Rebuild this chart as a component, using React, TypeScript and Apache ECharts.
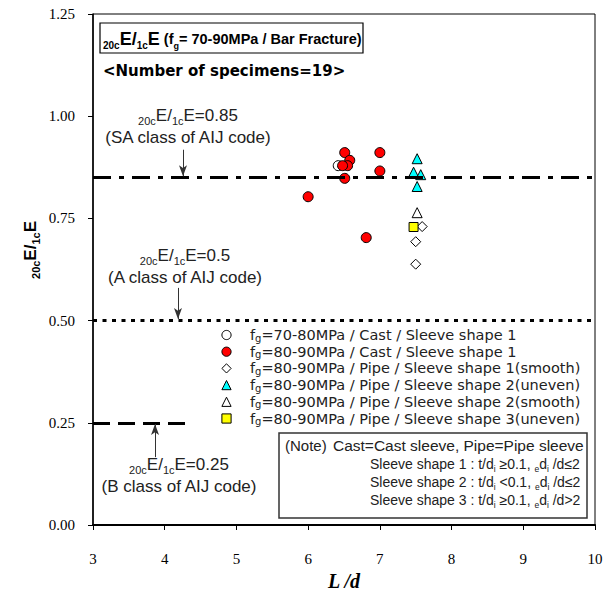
import React, { useEffect, useRef } from "react";
import * as echarts from "echarts";

// ---- data (L/d, 20cE/1cE) ----
const castOpen7080 = [[6.42, 0.879]];
const castRed8090 = [
  [6.0, 0.803],
  [6.51, 0.911],
  [6.58, 0.892],
  [6.55, 0.879],
  [6.48, 0.879],
  [6.51, 0.848],
  [7.0, 0.911],
  [7.0, 0.866],
  [6.81, 0.703],
];
const pipeShape1Smooth = [
  [7.59, 0.730],
  [7.5, 0.693],
  [7.5, 0.638],
];
const pipeShape2Uneven = [
  [7.52, 0.896],
  [7.47, 0.863],
  [7.57, 0.857],
  [7.52, 0.828],
];
const pipeShape2Smooth = [[7.52, 0.764]];
const pipeShape3Uneven = [[7.47, 0.729]];

const levelSA = 0.85;
const levelA = 0.5;
const levelB = 0.25;
const levelBEndX = 4.3;

const xMin = 3;
const xMax = 10;
const yMin = 0;
const yMax = 1.25;

const legendLabels = [
  "=70-80MPa / Cast / Sleeve shape 1",
  "=80-90MPa / Cast / Sleeve shape 1",
  "=80-90MPa / Pipe / Sleeve shape 1(smooth)",
  "=80-90MPa / Pipe / Sleeve shape 2(uneven)",
  "=80-90MPa / Pipe / Sleeve shape 2(smooth)",
  "=80-90MPa / Pipe / Sleeve shape 3(uneven)",
];

const SANS = "'Liberation Sans', Arial, sans-serif";
const WIDE = "'DejaVu Sans', sans-serif";
const SERIF = "'Liberation Serif', 'Times New Roman', serif";

function annot(x: number, y: number, value: string, cls: string) {
  const rich = {
    s: { fontSize: 11, lineHeight: 11, verticalAlign: "bottom", fontFamily: SANS, fill: "#222" },
    m: { fontSize: 17, lineHeight: 22, fontFamily: SANS, fill: "#222" },
  };
  return [
    {
      type: "text",
      x,
      y: y,
      style: {
        text: `{s|20c}{m|E/}{s|1c}{m|E=${value}}`,
        rich,
        align: "center",
        verticalAlign: "middle",
      },
    },
    {
      type: "text",
      x,
      y: y + 22,
      style: {
        text: `(${cls} class of AIJ code)`,
        fontSize: 17,
        fontFamily: SANS,
        fill: "#222",
        align: "center",
        verticalAlign: "middle",
      },
    },
  ];
}

export default function App() {
  const ref = useRef<HTMLDivElement>(null);
  useEffect(() => {
    if (!ref.current) return;
    const chart = echarts.init(ref.current, null, { renderer: "svg" });

    const legX = 226.5;
    const legTextX = 250;
    const legY0 = 335;
    const legDy = 16.7;
    const r = 4.6;
    const legendGraphics: any[] = [];
    const iconFor = (i: number, cy: number) => {
      const cx = legX;
      switch (i) {
        case 0:
          return { type: "circle", shape: { cx, cy, r }, style: { fill: "#fff", stroke: "#000", lineWidth: 1 } };
        case 1:
          return { type: "circle", shape: { cx, cy, r }, style: { fill: "#ff0000", stroke: "#000", lineWidth: 1 } };
        case 2:
          return {
            type: "polygon",
            shape: { points: [[cx, cy - r], [cx + r, cy], [cx, cy + r], [cx - r, cy]] },
            style: { fill: "#fff", stroke: "#000", lineWidth: 1 },
          };
        case 3:
          return {
            type: "polygon",
            shape: { points: [[cx, cy - r], [cx + r, cy + r], [cx - r, cy + r]] },
            style: { fill: "#00ffff", stroke: "#000", lineWidth: 1 },
          };
        case 4:
          return {
            type: "polygon",
            shape: { points: [[cx, cy - r], [cx + r, cy + r], [cx - r, cy + r]] },
            style: { fill: "#fff", stroke: "#000", lineWidth: 1 },
          };
        default:
          return {
            type: "rect",
            shape: { x: cx - r, y: cy - r, width: 2 * r, height: 2 * r },
            style: { fill: "#ffff00", stroke: "#000", lineWidth: 1 },
          };
      }
    };
    legendLabels.forEach((lab, i) => {
      const cy = legY0 + i * legDy;
      legendGraphics.push(iconFor(i, cy));
      legendGraphics.push({
        type: "text",
        x: legTextX,
        y: cy,
        style: {
          text: `{a|f}{g|g}{a|${lab}}`,
          rich: {
            a: { fontSize: 14.5, lineHeight: 16, fontFamily: WIDE, fill: "#222" },
            g: { fontSize: 10, lineHeight: 9, verticalAlign: "bottom", fontFamily: WIDE, fill: "#222" },
          },
          align: "left",
          verticalAlign: "middle",
        },
      });
    });

    const noteRich = {
      a: { fontSize: 14, lineHeight: 18, fontFamily: SANS, fill: "#222" },
      i: { fontSize: 8.5, lineHeight: 8, verticalAlign: "bottom", fontFamily: SANS, fill: "#222" },
    };
    const noteRow = (n: string, rel: string, lim: string) =>
      `{a|Sleeve shape ${n} : t/d}{i|i}{a| ${rel}0.1, }{i|e}{a|d}{i|i}{a| /d${lim}}`;

    const titleRich = {
      s: { fontSize: 10, lineHeight: 10, verticalAlign: "bottom", fontFamily: SANS, fontWeight: "bold", fill: "#000" },
      E: { fontSize: 18, lineHeight: 22, fontFamily: SANS, fontWeight: "bold", fill: "#000" },
      t: { fontSize: 14.5, lineHeight: 22, fontFamily: SANS, fontWeight: "bold", fill: "#000" },
      ts: { fontSize: 9, lineHeight: 9, verticalAlign: "bottom", fontFamily: SANS, fontWeight: "bold", fill: "#000" },
    };

    const graphics: any[] = [
      {
        type: "rect",
        shape: { x: 100, y: 23, width: 263, height: 30 },
        style: { fill: "#fff", stroke: "#000", lineWidth: 1.2 },
      },
      {
        type: "text",
        x: 103,
        y: 39,
        style: {
          text: "{s|20c}{E|E/}{s|1c}{E|E}{t| (f}{ts|g}{t|= 70-90MPa / Bar Fracture)}",
          rich: titleRich,
          align: "left",
          verticalAlign: "middle",
        },
      },
      {
        type: "text",
        x: 103,
        y: 71,
        style: {
          text: "<Number of specimens=19>",
          fontSize: 15,
          fontWeight: "bold",
          fontFamily: WIDE,
          fill: "#000",
          align: "left",
          verticalAlign: "middle",
        },
      },
      ...annot(188, 115, "0.85", "SA"),
      ...annot(185, 255, "0.5", "A"),
      ...annot(179, 464, "0.25", "B"),
      ...legendGraphics,
      {
        type: "rect",
        shape: { x: 279, y: 433, width: 308, height: 85 },
        style: { fill: "#fff", stroke: "#333", lineWidth: 1.5 },
      },
      {
        type: "text",
        x: 285,
        y: 445,
        style: { text: "(Note)", fontSize: 15, fontFamily: SANS, fill: "#222", align: "left", verticalAlign: "middle" },
      },
      {
        type: "text",
        x: 333,
        y: 445,
        style: {
          text: "Cast=Cast sleeve, Pipe=Pipe sleeve",
          fontSize: 15.5,
          fontFamily: SANS,
          fill: "#222",
          align: "left",
          verticalAlign: "middle",
        },
      },
      {
        type: "text",
        x: 370,
        y: 464,
        style: { text: noteRow("1", "≥", "≤2"), rich: noteRich, align: "left", verticalAlign: "middle" },
      },
      {
        type: "text",
        x: 370,
        y: 482,
        style: { text: noteRow("2", "<", "≤2"), rich: noteRich, align: "left", verticalAlign: "middle" },
      },
      {
        type: "text",
        x: 370,
        y: 500,
        style: { text: noteRow("3", "≥", ">2"), rich: noteRich, align: "left", verticalAlign: "middle" },
      },
      {
        type: "text",
        x: 30,
        y: 250,
        rotation: Math.PI / 2,
        style: {
          text: "{s|20c}{E|E/}{s|1c}{E|E}",
          rich: {
            s: { fontSize: 11, lineHeight: 10, verticalAlign: "bottom", fontFamily: SANS, fontWeight: "bold", fill: "#000" },
            E: { fontSize: 17, lineHeight: 22, fontFamily: SANS, fontWeight: "bold", fill: "#000" },
          },
          align: "center",
          verticalAlign: "middle",
        },
      },
    ];

    const arrowLine = (x: number, y0: number, y1: number) => [
      { coord: [x, y0], symbol: "none" },
      { coord: [x, y1], symbol: "arrow", symbolSize: [6, 11], lineStyle: { color: "#333", width: 1, type: "solid" } },
    ];

    const sym = (data: number[][], name: string, symbol: string, size: number, fill: string, extra: any = {}) => ({
      type: "scatter",
      name,
      data,
      symbol,
      symbolSize: size,
      itemStyle: { color: fill, borderColor: "#000", borderWidth: 1, opacity: 1 },
      emphasis: { disabled: true },
      ...extra,
    });

    chart.setOption({
      animation: false,
      backgroundColor: "#fff",
      grid: {
        left: 93,
        right: 15,
        top: 14,
        bottom: 67,
        show: true,
        borderColor: "#000",
        borderWidth: 1,
        containLabel: false,
        outerBoundsMode: "none",
      },
      xAxis: {
        type: "value",
        min: xMin,
        max: xMax,
        interval: 1,
        name: "L /d",
        nameLocation: "middle",
        nameGap: 44,
        nameTextStyle: {
          fontFamily: SERIF,
          fontStyle: "italic",
          fontWeight: "bold",
          fontSize: 20,
          color: "#000",
        },
        axisLine: { show: true, lineStyle: { color: "#000", width: 2 } },
        axisTick: { show: true, inside: false, length: 5, lineStyle: { color: "#000", width: 1 } },
        axisLabel: { margin: 26, fontFamily: SERIF, fontSize: 15, color: "#000" },
        splitLine: { show: false },
      },
      yAxis: {
        type: "value",
        min: yMin,
        max: yMax,
        interval: 0.25,
        axisLine: { show: true, lineStyle: { color: "#000", width: 1.5 } },
        axisTick: { show: true, inside: false, length: 5, lineStyle: { color: "#000", width: 1 } },
        axisLabel: {
          margin: 18,
          fontFamily: SERIF,
          fontSize: 15,
          color: "#000",
          formatter: (v: number) => v.toFixed(2),
        },
        splitLine: { show: false },
      },
      series: [
        sym(castOpen7080, "fg=70-80MPa / Cast / Sleeve shape 1", "circle", 10, "#ffffff", {
          markLine: {
            silent: true,
            symbol: ["none", "none"],
            label: { show: false },
            emphasis: { disabled: true },
            animation: false,
            data: [
              { yAxis: levelSA, lineStyle: { color: "#000", width: 3, type: [18, 8, 5, 8] } },
              { yAxis: levelA, lineStyle: { color: "#000", width: 3, type: [4, 5.5] } },
              [
                { coord: [xMin, levelB], symbol: "none" },
                { coord: [levelBEndX, levelB], symbol: "none", lineStyle: { color: "#000", width: 3, type: [17, 8] } },
              ],
              arrowLine(4.255, 0.918, 0.853),
              arrowLine(4.185, 0.58, 0.504),
              arrowLine(3.865, 0.166, 0.247),
            ],
          },
        }),
        sym(castRed8090, "fg=80-90MPa / Cast / Sleeve shape 1", "circle", 10, "#ff0000"),
        sym(pipeShape1Smooth, "fg=80-90MPa / Pipe / Sleeve shape 1(smooth)", "diamond", 10, "#ffffff"),
        sym(pipeShape2Uneven, "fg=80-90MPa / Pipe / Sleeve shape 2(uneven)", "triangle", 10, "#00ffff"),
        sym(pipeShape2Smooth, "fg=80-90MPa / Pipe / Sleeve shape 2(smooth)", "triangle", 10, "#ffffff"),
        sym(pipeShape3Uneven, "fg=80-90MPa / Pipe / Sleeve shape 3(uneven)", "rect", 9, "#ffff00"),
      ],
      graphic: graphics,
    });

    return () => chart.dispose();
  }, []);

  return (
    <div
      ref={ref}
      style={{ position: "absolute", left: 0, top: 0, width: 610, height: 592, background: "#fff" }}
    />
  );
}
